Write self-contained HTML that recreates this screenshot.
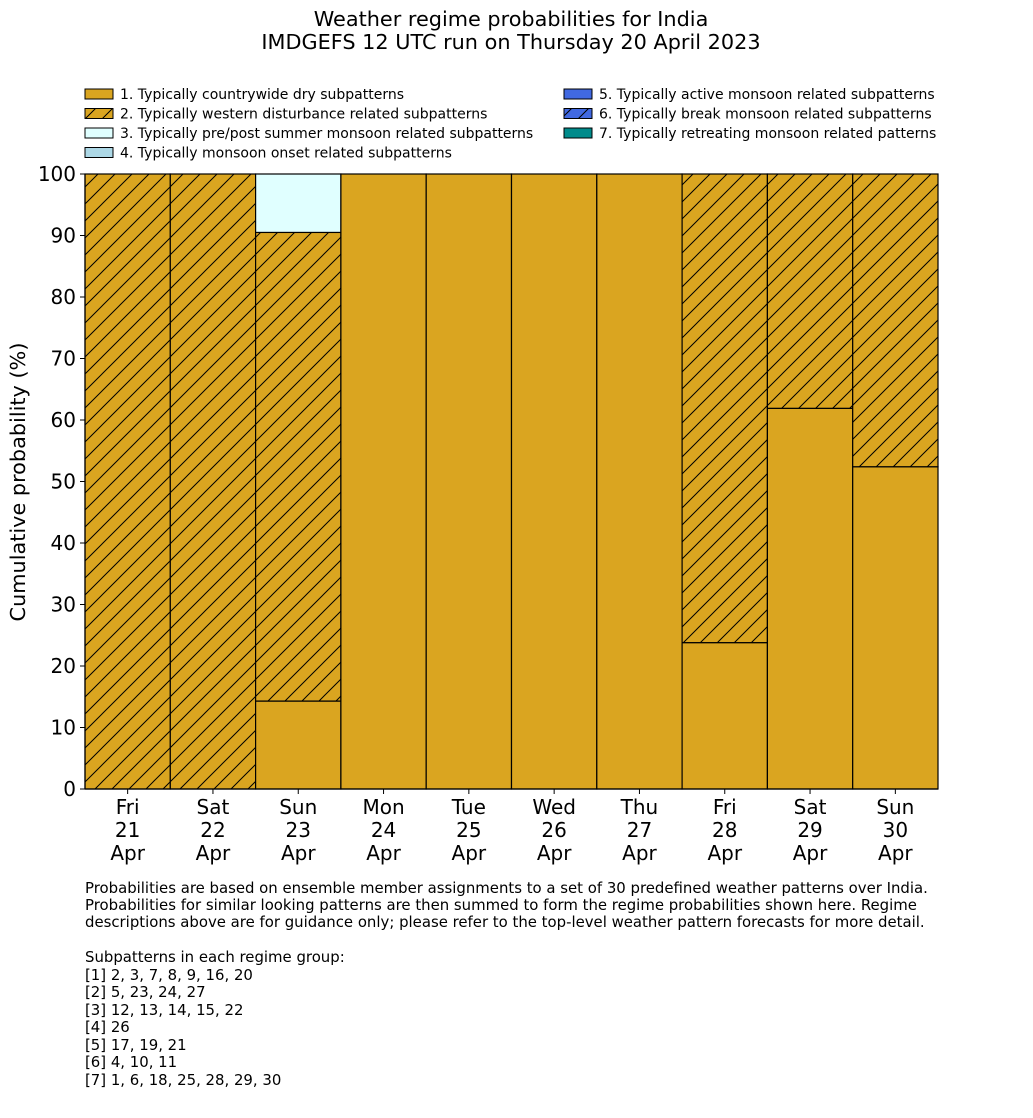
<!DOCTYPE html>
<html><head><meta charset="utf-8"><style>
body{margin:0;background:#fff;font-family:"DejaVu Sans","Liberation Sans",sans-serif;}
svg text{font-family:"DejaVu Sans","Liberation Sans",sans-serif;fill:#000;}
</style></head><body>
<svg id="chart" width="1033" height="1114" xmlns="http://www.w3.org/2000/svg">
<defs>
<pattern id="hatch" patternUnits="userSpaceOnUse" width="17" height="17">
<rect width="17" height="17" fill="#DAA520"/>
<path d="M-2,2 L2,-2 M0,17 L17,0 M15,19 L19,15" stroke="#000" stroke-width="1"/>
</pattern>
</defs>
<text x="511" y="26" font-size="20.8" text-anchor="middle">Weather regime probabilities for India</text>
<text x="511" y="49" font-size="20.8" text-anchor="middle">IMDGEFS 12 UTC run on Thursday 20 April 2023</text>
<g id="legend" font-size="14"></g>
<g id="bars"></g>
<g id="axes"></g>
<text transform="translate(25,482) rotate(-90)" font-size="20.8" text-anchor="middle">Cumulative probability (%)</text>
<g font-size="14.9">
<text x="85" y="893">Probabilities are based on ensemble member assignments to a set of 30 predefined weather patterns over India.</text>
<text x="85" y="910">Probabilities for similar looking patterns are then summed to form the regime probabilities shown here. Regime</text>
<text x="85" y="927">descriptions above are for guidance only; please refer to the top-level weather pattern forecasts for more detail.</text>
<text x="85" y="962">Subpatterns in each regime group:</text>
<text x="85" y="980">[1] 2, 3, 7, 8, 9, 16, 20</text>
<text x="85" y="997">[2] 5, 23, 24, 27</text>
<text x="85" y="1015">[3] 12, 13, 14, 15, 22</text>
<text x="85" y="1032">[4] 26</text>
<text x="85" y="1050">[5] 17, 19, 21</text>
<text x="85" y="1067">[6] 4, 10, 11</text>
<text x="85" y="1085">[7] 1, 6, 18, 25, 28, 29, 30</text>
</g>
</svg>
<script>
const categories=[["Fri","21","Apr"],["Sat","22","Apr"],["Sun","23","Apr"],["Mon","24","Apr"],["Tue","25","Apr"],["Wed","26","Apr"],["Thu","27","Apr"],["Fri","28","Apr"],["Sat","29","Apr"],["Sun","30","Apr"]];
const dry=[0,0,14.3,100,100,100,100,23.8,61.9,52.4];
const westernDisturbance=[100,100,76.2,0,0,0,0,76.2,38.1,47.6];
const prePost=[0,0,9.5,0,0,0,0,0,0,0];
const yTicks=[0,10,20,30,40,50,60,70,80,90,100];
const legendLabels=["1. Typically countrywide dry subpatterns","2. Typically western disturbance related subpatterns","3. Typically pre/post summer monsoon related subpatterns","4. Typically monsoon onset related subpatterns","5. Typically active monsoon related subpatterns","6. Typically break monsoon related subpatterns","7. Typically retreating monsoon related patterns"];
const legendFills=["#DAA520","url(#hatch)","#E0FFFF","#ADD8E6","#4169E1","url(#hatchBlue)","#008B8B"];
const NS="http://www.w3.org/2000/svg";
const X0=85,X1=938,Y0=789,Y1=174;
const bw=(X1-X0)/categories.length;
const xs=i=>X0+i*bw;
const ys=v=>Y0-(Y0-Y1)*v/100;
function mk(tag,attrs,parent){const e=document.createElementNS(NS,tag);for(const k in attrs)e.setAttribute(k,attrs[k]);parent.appendChild(e);return e;}
const defs=document.querySelector('defs');
const pb=mk('pattern',{id:'hatchBlue',patternUnits:'userSpaceOnUse',width:17,height:17},defs);
mk('rect',{width:17,height:17,fill:'#4169E1'},pb);
mk('path',{d:'M-2,2 L2,-2 M0,17 L17,0 M15,19 L19,15',stroke:'#000','stroke-width':1},pb);
const bars=document.getElementById('bars');
const series=[[dry,"#DAA520","dry"],[westernDisturbance,"url(#hatch)","wd"],[prePost,"#E0FFFF","prepost"]];
categories.forEach((c,i)=>{
  let cum=0;
  series.forEach(([arr,fill,nm])=>{
    const v=arr[i];
    if(v>0){
      const r=mk('rect',{x:xs(i),y:ys(cum+v),width:bw,height:ys(cum)-ys(cum+v),fill:fill,stroke:'#000','stroke-width':1.2},bars);
      
      
    }
    cum+=v;
  });
});
const axes=document.getElementById('axes');
mk('line',{x1:X0,y1:Y1,x2:X0,y2:Y0,stroke:'#000','stroke-width':1.2},axes);
mk('line',{x1:X0,y1:Y0,x2:X1,y2:Y0,stroke:'#000','stroke-width':1.2},axes);
yTicks.forEach(t=>{
  mk('line',{x1:X0-5,y1:ys(t),x2:X0,y2:ys(t),stroke:'#000'},axes);
  const tx=mk('text',{x:X0-9,y:ys(t)+7,'font-size':20,'text-anchor':'end'},axes);
  tx.textContent=t;
  
  
});
categories.forEach((c,i)=>{
  const cx=xs(i)+bw/2;
  mk('line',{x1:cx,y1:Y0,x2:cx,y2:Y0+5,stroke:'#000'},axes);
  c.forEach((s,j)=>{
    const tx=mk('text',{x:cx,y:814+j*23,'font-size':20,'text-anchor':'middle'},axes);
    tx.textContent=s;
    
    
  });
});
const lg=document.getElementById('legend');
legendLabels.forEach((l,i)=>{
  const col=i<4?0:1,row=i<4?i:i-4;
  const x=col?564:85,y=89+row*19.5;
  mk('rect',{x:x,y:y,width:28,height:10,fill:legendFills[i],stroke:'#000','stroke-width':1},lg);
  const tx=mk('text',{x:x+35,y:y+10},lg);
  tx.textContent=l;
  
  
});
</script>
</body></html>
